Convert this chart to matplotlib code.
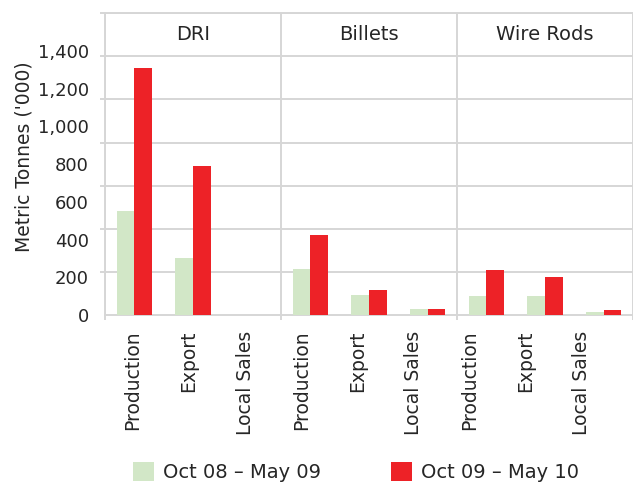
#!/usr/bin/env python3
import numpy as np
import matplotlib
matplotlib.use("Agg")
import matplotlib.pyplot as plt

# Data ('000 metric tonnes)
groups = ["DRI", "Billets", "Wire Rods"]
measures = ["Production", "Export", "Local Sales"]
period_a = "Oct 08 \u2013 May 09"
period_b = "Oct 09 \u2013 May 10"
dri_a = [551, 302, 0]
dri_b = [1311, 790, 0]
billets_a = [244, 106, 32]
billets_b = [424, 133, 32]
rods_a = [101, 101, 16]
rods_b = [239, 201, 27]
yticks = [0, 200, 400, 600, 800, 1000, 1200, 1400]

GREEN = "#d2e7c7"
RED = "#ed2227"
GRID = "#d6d6d6"
TEXT = "#262626"

plt.rcParams["font.family"] = ["DejaVu Sans"]
plt.rcParams["font.size"] = 13.5

vals_a = dri_a + billets_a + rods_a
vals_b = dri_b + billets_b + rods_b
x = np.arange(len(vals_a))
w = 0.3

fig = plt.figure(figsize=(6.33, 4.82), dpi=100)
ax = fig.add_axes([0.1659, 0.3465, 0.8341, 0.6259])

ymax = 1600
ax.set_xlim(-0.5, len(x) - 0.5)
ax.set_ylim(0, ymax)

ax.bar(x - w / 2, vals_a, w, color=GREEN, label=period_a, zorder=3)
ax.bar(x + w / 2, vals_b, w, color=RED, label=period_b, zorder=3)

# horizontal grid (evenly spaced rows, top row holds the group names)
ax.set_yticks(yticks)
ax.set_yticklabels([f"{v:,}" for v in yticks], color=TEXT, fontsize=13)
ax.set_yticks(np.linspace(0, ymax, 8), minor=True)
ax.tick_params(axis="y", which="major", length=0, pad=11.5)
ax.tick_params(axis="y", which="minor", length=3.6, width=1.4, color=GRID)
ax.grid(axis="y", which="minor", color=GRID, linewidth=1.4, zorder=0)

# vertical group separators
ax.set_xticks(np.arange(0, len(x) + 1, 3) - 0.5, minor=True)
ax.tick_params(axis="x", which="minor", length=3.6, width=1.4, color=GRID)
ax.grid(axis="x", which="minor", color=GRID, linewidth=1.4, zorder=0)

label_pos = -0.023 + 0.956 * x
ax.set_xticks(label_pos)
ax.set_xticklabels(measures * len(groups), rotation=90, color=TEXT)
ax.tick_params(axis="x", which="major", length=0, pad=11)

for name, s in ax.spines.items():
    s.set_color(GRID)
    s.set_linewidth(1.4)
    s.set_zorder(0)
ax.spines["right"].set_visible(False)

header_y = ymax * 13 / 14
for i, g in enumerate(groups):
    ax.text(3 * i + 1, header_y, g, ha="center", va="center", color=TEXT,
            fontsize=14)

ax.set_ylabel("Metric Tonnes ('000)", color=TEXT)
ax.yaxis.set_label_coords(-0.136, 0.524)

fig.legend(loc="center", bbox_to_anchor=(356 / 633, 0.021), ncol=2,
           frameon=False, handlelength=1.1, handleheight=1.1, fontsize=14,
           handletextpad=0.45, columnspacing=3.6, labelcolor=TEXT)

fig.savefig("out.png", dpi=100)
